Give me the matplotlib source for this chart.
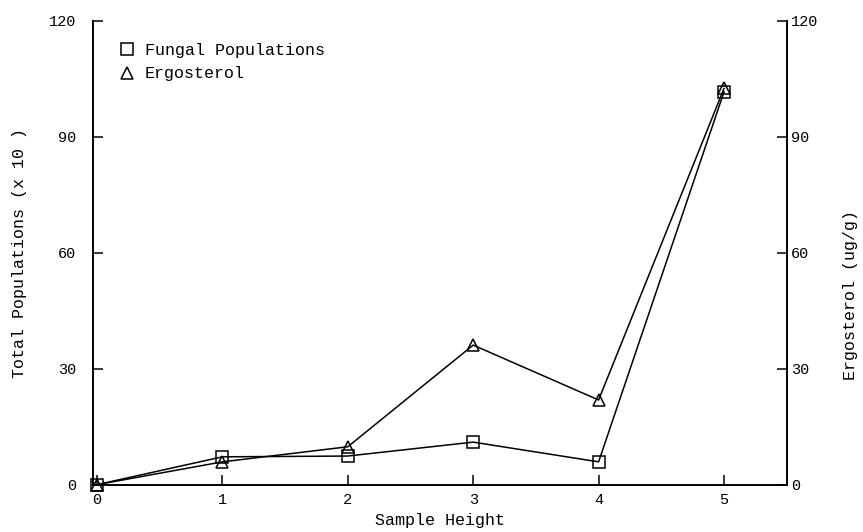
import matplotlib
matplotlib.use("Agg")
import matplotlib.pyplot as plt
from matplotlib.lines import Line2D

plt.rcParams['font.family'] = ['Liberation Mono', 'DejaVu Sans Mono']

# sample heights and measured values
heights = [0, 1, 2, 3, 4, 5]
fungal_pop = [0, 7.2, 7.4, 11.0, 5.9, 101.6]
ergosterol = [0, 5.9, 9.8, 36.1, 21.9, 102.5]

y_ticks = [0, 30, 60, 90, 120]
x_ticks = [0, 1, 2, 3, 4, 5]

fig = plt.figure(figsize=(8.63, 5.32), dpi=100)
ax = fig.add_axes([0.108, 0.089, 0.8036, 0.872])
ax2 = ax.twinx()

ax.plot(heights, fungal_pop, color='black', lw=1.1, marker='s', ms=8,
        mfc='none', mec='black', mew=1.1, clip_on=False, zorder=3)
ax2.plot(heights, ergosterol, color='black', lw=1.1, marker='^', ms=8,
         mfc='none', mec='black', mew=1.1, clip_on=False, zorder=3)

for a in (ax, ax2):
    a.set_xlim(-0.03, 5.5)
    a.set_ylim(0, 120)
    a.set_yticks(y_ticks)
    a.spines['top'].set_visible(False)
    for s in a.spines.values():
        s.set_linewidth(1.4)

ax.spines['right'].set_visible(False)
ax2.spines['left'].set_visible(False)
ax2.spines['bottom'].set_visible(False)

ax.set_xticks(x_ticks)
ax.tick_params(axis='x', direction='in', length=7, width=1.1, pad=6, labelsize=11)
ax.tick_params(axis='y', direction='in', length=7, width=1.1, pad=12, labelsize=11)
ax2.tick_params(axis='y', direction='in', length=7, width=1.1, pad=3, labelsize=11)

ax.set_xlabel('Sample Height', fontsize=12, labelpad=4)
ax.set_ylabel('Total Populations (x 10 )', fontsize=12, labelpad=16)
# right axis title sits a little lower than the axis centre
fig.text(0.986, 0.445, 'Ergosterol (ug/g)', fontsize=12, rotation=90,
         ha='center', va='center')

handles = [
    Line2D([], [], ls='none', marker='s', ms=8, mfc='none', mec='black', mew=1.1),
    Line2D([], [], ls='none', marker='^', ms=8, mfc='none', mec='black', mew=1.1),
]
ax.legend(handles, ['Fungal Populations', 'Ergosterol'], loc='upper left',
          bbox_to_anchor=(0.036, 0.952), frameon=False, fontsize=12,
          handlelength=1.0, handletextpad=0.6, borderpad=0, borderaxespad=0,
          labelspacing=0.5)

fig.savefig('out.png', dpi=100)
